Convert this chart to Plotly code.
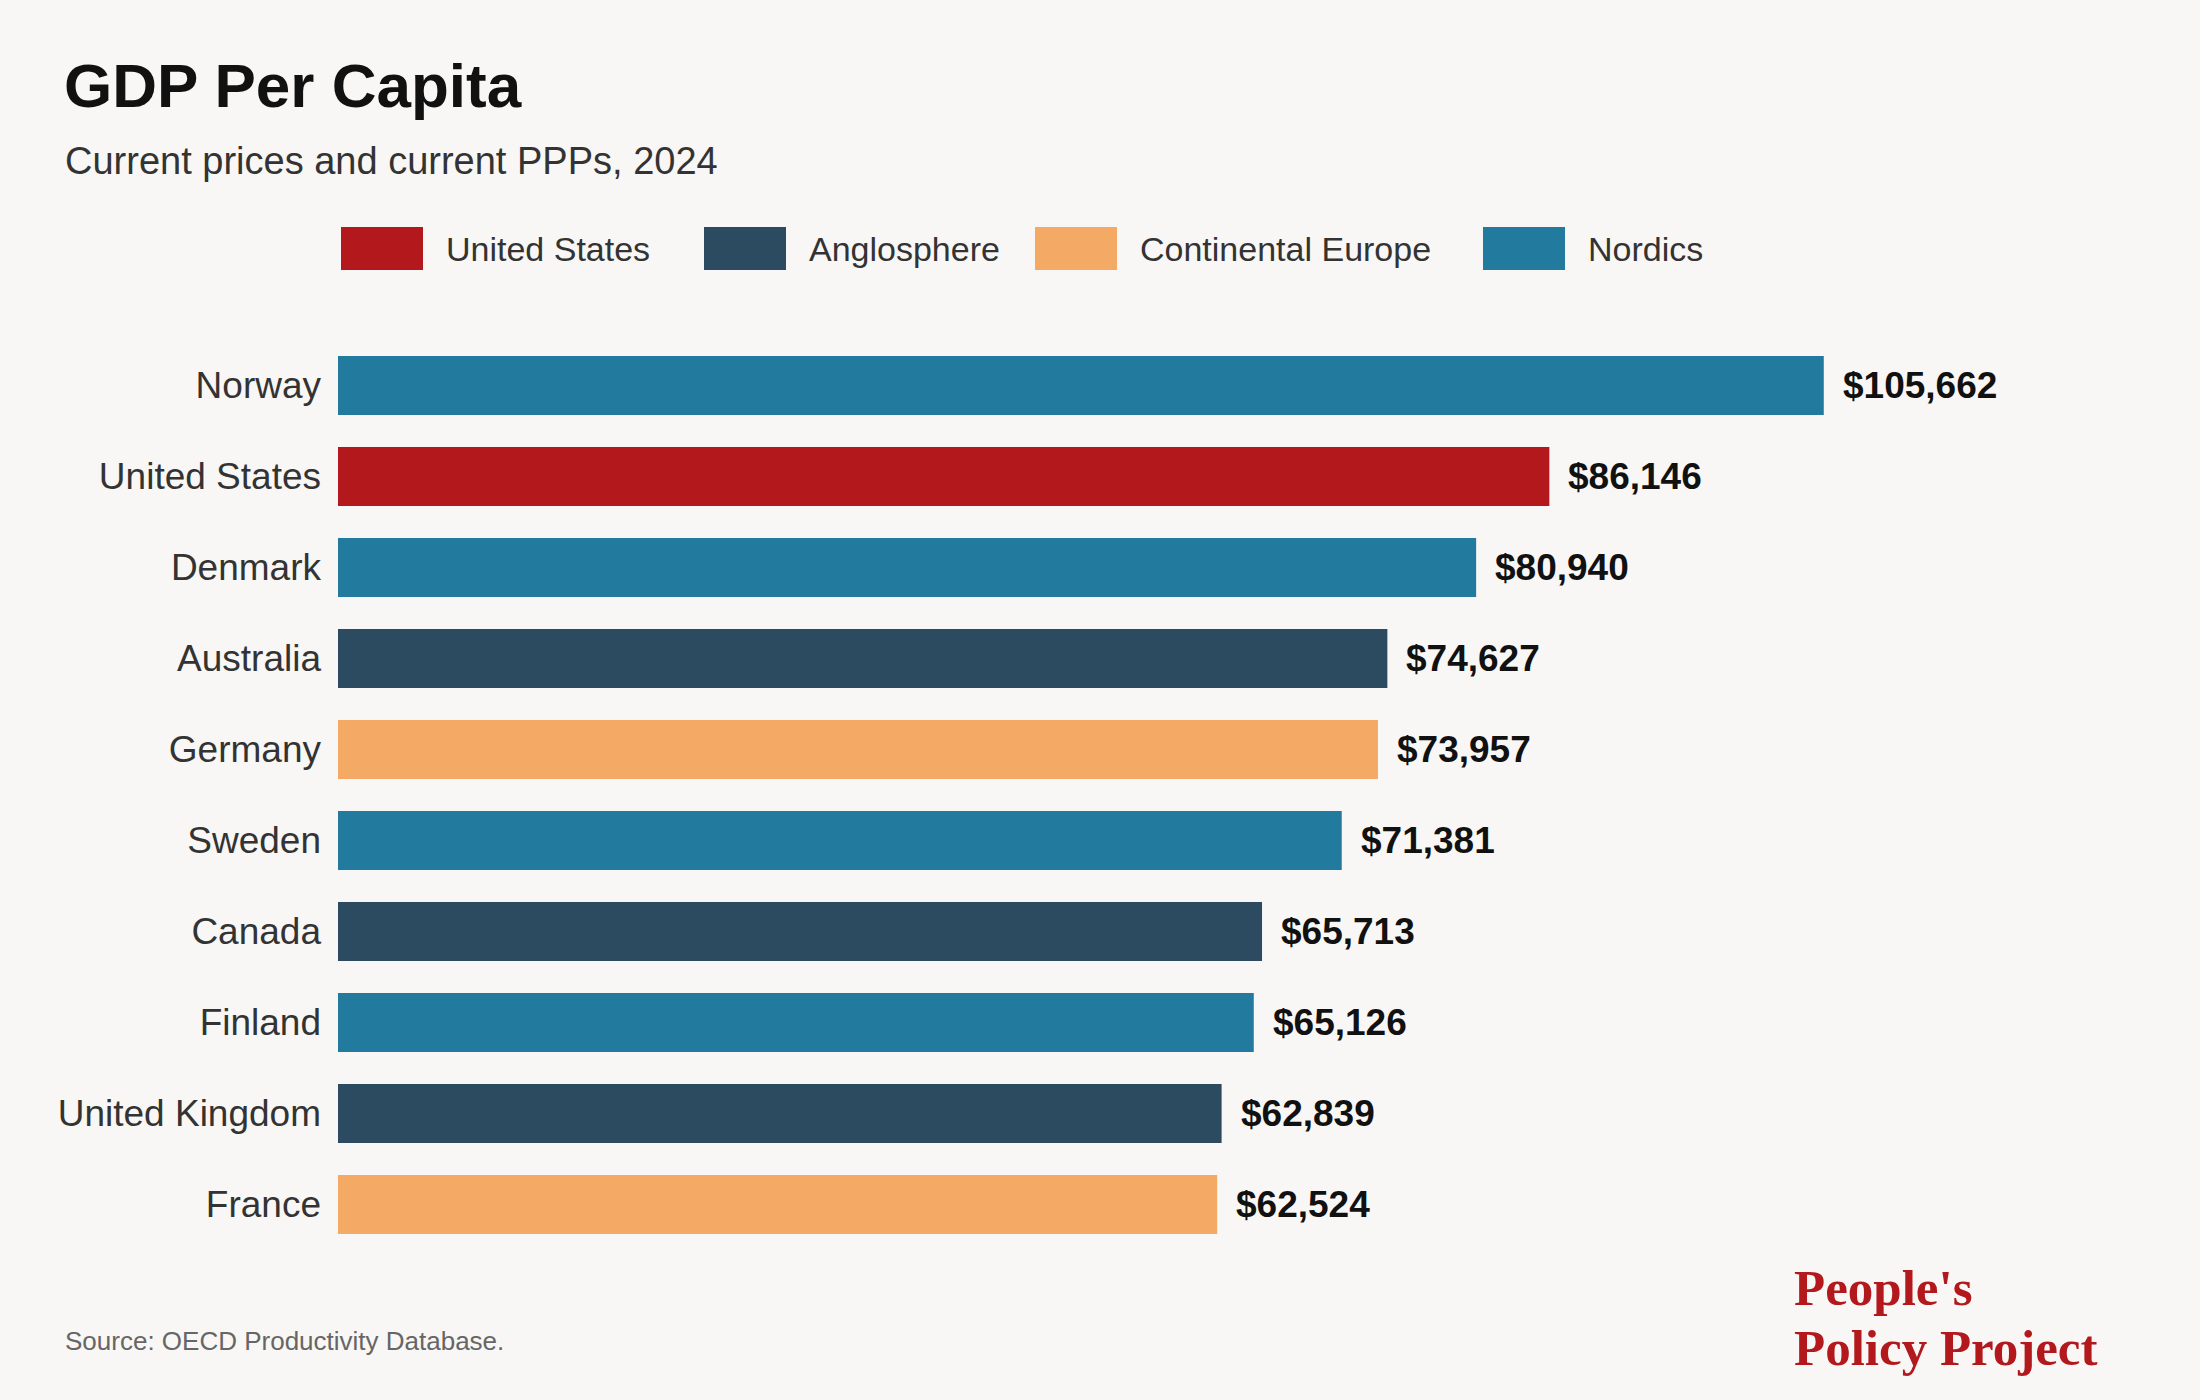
import plotly.graph_objects as go

# data
countries = ["Norway", "United States", "Denmark", "Australia", "Germany",
             "Sweden", "Canada", "Finland", "United Kingdom", "France"]
gdp_per_capita = [105662, 86146, 80940, 74627, 73957, 71381, 65713, 65126, 62839, 62524]
groups = ["Nordics", "United States", "Nordics", "Anglosphere", "Continental Europe",
          "Nordics", "Anglosphere", "Nordics", "Anglosphere", "Continental Europe"]

legend_order = ["United States", "Anglosphere", "Continental Europe", "Nordics"]
group_colors = {
    "United States": "#b3181d",
    "Anglosphere": "#2d4b60",
    "Continental Europe": "#f4a964",
    "Nordics": "#227a9e",
}

W, H = 2200, 1400
M_L, M_R, M_T, M_B = 338, 34, 340, 150
PW = W - M_L - M_R
PH = H - M_T - M_B


def px2x(px):
    return (px - M_L) / PW


def px2y(py):
    return 1 - (py - M_T) / PH


fig = go.Figure()
fig.add_trace(go.Bar(
    x=gdp_per_capita,
    y=countries,
    orientation="h",
    width=0.65,
    marker=dict(color=[group_colors[g] for g in groups], line=dict(width=0)),
    hovertemplate="%{y}: $%{x:,}<extra></extra>",
    showlegend=False,
))

annotations = []
# value labels
for c, v in zip(countries, gdp_per_capita):
    annotations.append(dict(
        x=v, y=c, xref="x", yref="y", text=f"${v:,}", showarrow=False,
        xanchor="left", yanchor="middle", xshift=17,
        font=dict(family="Liberation Sans", size=37, color="#111111", weight="bold"),
    ))

# title, subtitle, source, logo
logo_font = dict(family="Liberation Serif", size=51, color="#b3181d")
annotations += [
    dict(x=px2x(62), y=px2y(85), xref="paper", yref="paper", text="<b>GDP Per Capita</b>",
         showarrow=False, xanchor="left", yanchor="middle",
         font=dict(family="Liberation Sans", size=62, color="#111111")),
    dict(x=px2x(63), y=px2y(161), xref="paper", yref="paper",
         text="Current prices and current PPPs, 2024",
         showarrow=False, xanchor="left", yanchor="middle",
         font=dict(family="Liberation Sans", size=38, color="#333333")),
    dict(x=px2x(63), y=px2y(1341), xref="paper", yref="paper",
         text="Source: OECD Productivity Database.",
         showarrow=False, xanchor="left", yanchor="middle",
         font=dict(family="Liberation Sans", size=26, color="#666666")),
    dict(x=px2x(1793), y=px2y(1288), xref="paper", yref="paper", text="<b>People's</b>",
         showarrow=False, xanchor="left", yanchor="middle", borderpad=0,
         font=logo_font),
    dict(x=px2x(1793), y=px2y(1348), xref="paper", yref="paper", text="<b>Policy Project</b>",
         showarrow=False, xanchor="left", yanchor="middle", borderpad=0,
         font=logo_font),
]

# hand-made legend: coloured squares and labels
legend_x = [341, 704, 1035, 1483]
shapes = []
for name, lx in zip(legend_order, legend_x):
    shapes.append(dict(
        type="rect", xref="paper", yref="paper",
        x0=px2x(lx), x1=px2x(lx + 82), y0=px2y(270), y1=px2y(227),
        fillcolor=group_colors[name], line=dict(width=0),
    ))
    annotations.append(dict(
        x=px2x(lx + 103), y=px2y(249), xref="paper", yref="paper", text=name,
        showarrow=False, xanchor="left", yanchor="middle",
        font=dict(family="Liberation Sans", size=34, color="#333333"),
    ))

fig.update_layout(
    width=W, height=H,
    margin=dict(l=M_L, r=M_R, t=M_T, b=M_B),
    paper_bgcolor="#f8f7f5",
    plot_bgcolor="#f8f7f5",
    font=dict(family="Liberation Sans", color="#333333"),
    xaxis=dict(range=[0, 130000], visible=False, fixedrange=True),
    yaxis=dict(
        categoryorder="array", categoryarray=countries,
        range=[9.5, -0.5], showgrid=False, zeroline=False, showline=False,
        ticks="", ticklabelstandoff=16, fixedrange=True,
        tickfont=dict(family="Liberation Sans", size=37, color="#333333"),
    ),
    bargap=0.35,
    shapes=shapes,
    annotations=annotations,
)

fig.write_html("out.html", config={"displayModeBar": False},
               post_script="document.body.style.margin='0';")
